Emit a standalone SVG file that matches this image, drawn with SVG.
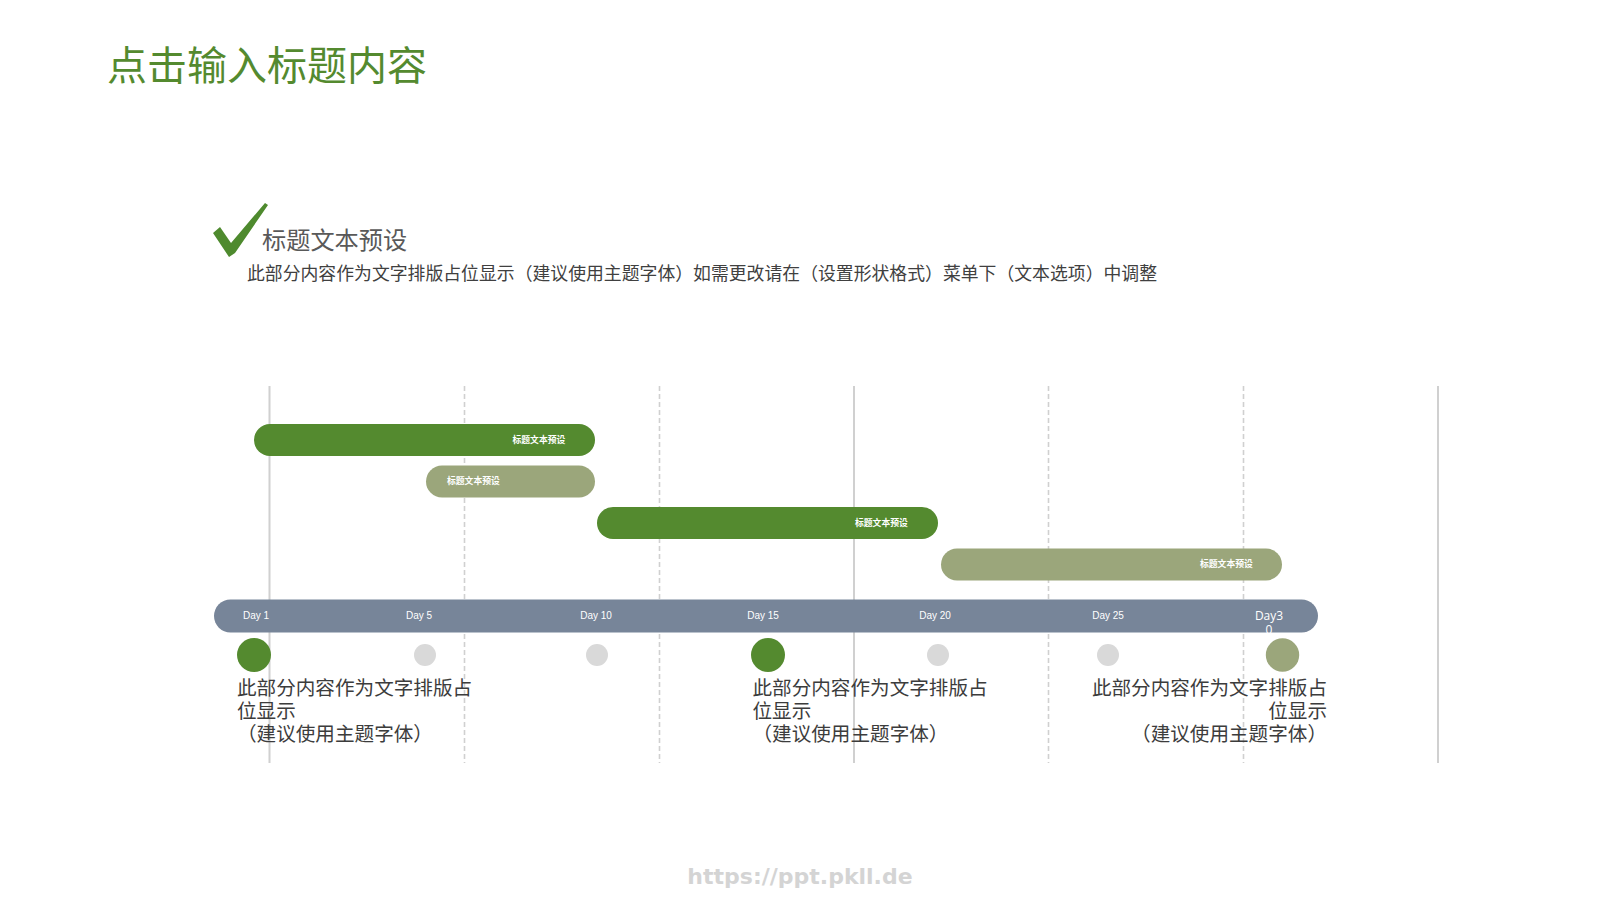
<svg xmlns="http://www.w3.org/2000/svg" width="1600" height="900" viewBox="0 0 1600 900">
<style>
.cjk{font-family:"Noto Sans CJK SC","Noto Sans",sans-serif}
.grid-solid{stroke:#d0d0d0;stroke-width:2;fill:none}
.grid-dash{stroke:#d0d0d0;stroke-width:1.6;stroke-dasharray:5 3;fill:none}
.bar-green{fill:#548a2f}
.bar-olive{fill:#9ba67b}
.blabel{font-family:"Noto Sans CJK SC",sans-serif;font-size:8.8px;font-weight:bold;fill:#ffffff}
.day{font-family:"Liberation Sans",Arial,sans-serif;font-size:10px;fill:#ffffff;text-anchor:middle}
.desc{font-family:"Noto Sans CJK SC",sans-serif;font-size:19.6px;fill:#3c3c3c}
.dot-gray{fill:#d9d9d9}
.dot-green{fill:#548a2f}
.dot-olive{fill:#9ba67b}
</style>
<rect width="1600" height="900" fill="#ffffff"/>

<text id="title" class="cjk" x="107" y="80" font-size="40" fill="#548a2f">点击输入标题内容</text>

<g id="heading">
<polygon points="213,233 220,227 231,243 265,203 268,205 235,253 229,257" fill="#4e8a2e"/>
<text class="cjk" x="262" y="248.5" font-size="24.2" fill="#595959">标题文本预设</text>
<text class="cjk" x="247" y="280" font-size="17.85" fill="#404040">此部分内容作为文字排版占位显示（建议使用主题字体）如需更改请在（设置形状格式）菜单下（文本选项）中调整</text>
</g>

<g id="connectors">
<line class="grid-solid" x1="269.5" y1="386" x2="269.5" y2="763"/>
<line class="grid-dash" x1="464.5" y1="386" x2="464.5" y2="763"/>
<line class="grid-dash" x1="659.5" y1="386" x2="659.5" y2="763"/>
<line class="grid-solid" x1="854" y1="386" x2="854" y2="763"/>
<line class="grid-dash" x1="1048.5" y1="386" x2="1048.5" y2="763"/>
<line class="grid-dash" x1="1243.5" y1="386" x2="1243.5" y2="763"/>
<line class="grid-solid" x1="1438" y1="386" x2="1438" y2="763"/>
</g>

<g id="task1">
<rect class="bar-green" x="254" y="424" width="341" height="32" rx="16"/>
<text class="blabel" x="512.5" y="442.5">标题文本预设</text>
</g>
<g id="task2">
<rect class="bar-olive" x="426" y="465.5" width="169" height="32" rx="16"/>
<text class="blabel" x="447" y="484">标题文本预设</text>
</g>
<g id="task3">
<rect class="bar-green" x="597" y="507" width="341" height="32" rx="16"/>
<text class="blabel" x="855" y="525.5">标题文本预设</text>
</g>
<g id="task4">
<rect class="bar-olive" x="941" y="548.5" width="341" height="32" rx="16"/>
<text class="blabel" x="1200" y="567">标题文本预设</text>
</g>

<g id="timeline">
<rect x="214" y="599.5" width="1104" height="33" rx="16.5" fill="#778599"/>
<text class="day" x="256" y="619">Day 1</text>
<text class="day" x="419" y="619">Day 5</text>
<text class="day" x="596" y="619">Day 10</text>
<text class="day" x="763" y="619">Day 15</text>
<text class="day" x="935" y="619">Day 20</text>
<text class="day" x="1108" y="619">Day 25</text>
<text x="1269" y="620" font-family="'Open Sans',sans-serif" font-size="12" fill="#ffffff" text-anchor="middle">Day3</text>
<text x="1269" y="634" font-family="'Open Sans',sans-serif" font-size="12" fill="#ffffff" text-anchor="middle">0</text>
</g>

<g id="markers">
<circle class="dot-green" cx="254" cy="655" r="17"/>
<circle class="dot-gray" cx="425" cy="655" r="11"/>
<circle class="dot-gray" cx="597" cy="655" r="11"/>
<circle class="dot-green" cx="768" cy="655" r="17"/>
<circle class="dot-gray" cx="938" cy="655" r="11"/>
<circle class="dot-gray" cx="1108" cy="655" r="11"/>
<circle class="dot-olive" cx="1282.5" cy="655" r="16.7"/>
</g>

<g id="note1">
<text class="desc" x="237" y="694.5">此部分内容作为文字排版占</text>
<text class="desc" x="237" y="717.5">位显示</text>
<text class="desc" x="237" y="741">（建议使用主题字体）</text>
</g>
<g id="note2">
<text class="desc" x="752.5" y="694.5">此部分内容作为文字排版占</text>
<text class="desc" x="752.5" y="717.5">位显示</text>
<text class="desc" x="752.5" y="741">（建议使用主题字体）</text>
</g>
<g id="note3">
<text class="desc" x="1327" y="694.5" text-anchor="end">此部分内容作为文字排版占</text>
<text class="desc" x="1327" y="717.5" text-anchor="end">位显示</text>
<text class="desc" x="1327" y="741" text-anchor="end">（建议使用主题字体）</text>
</g>

<text id="watermark" x="800" y="883.5" text-anchor="middle" font-family="'DejaVu Sans',sans-serif" font-weight="bold" font-size="22" fill="#d4d4d4">https://ppt.pkll.de</text>
</svg>
